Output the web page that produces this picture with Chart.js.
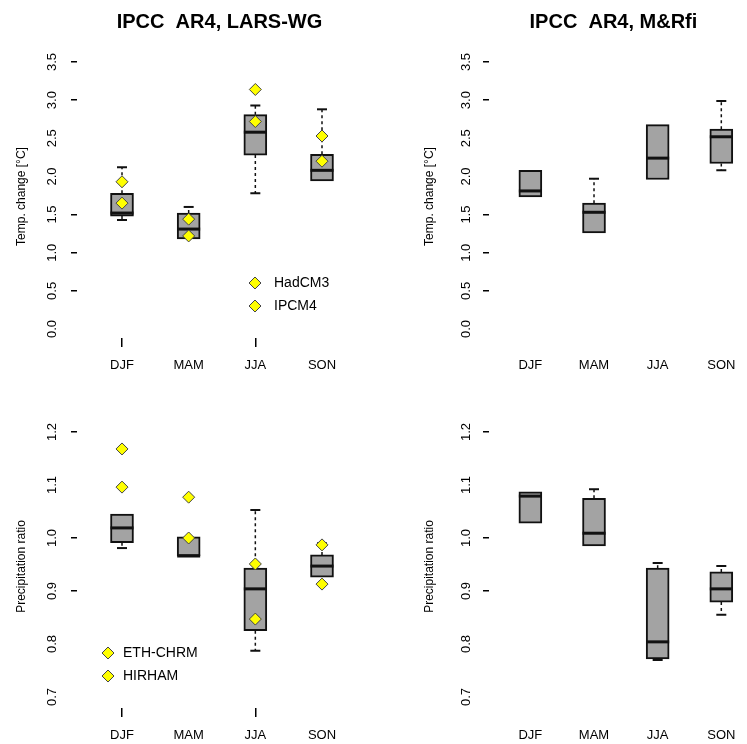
<!DOCTYPE html>
<html>
<head>
<meta charset="utf-8">
<script src="https://cdn.jsdelivr.net/npm/chart.js@4.4.0/dist/chart.umd.min.js"></script>
<style>
  html, body { margin: 0; padding: 0; background: #fff; }
  #wrap { position: relative; width: 747px; height: 744px; }
  canvas { position: absolute; }
</style>
</head>
<body>
<div id="wrap">
  <canvas id="pTL" width="373" height="372" style="left:0;top:0"></canvas>
  <canvas id="pTR" width="374" height="372" style="left:373px;top:0"></canvas>
  <canvas id="pBL" width="373" height="372" style="left:0;top:372px"></canvas>
  <canvas id="pBR" width="374" height="372" style="left:373px;top:372px"></canvas>
</div>
<script>
// categories
const seasons = ["DJF", "MAM", "JJA", "SON"];
const seasonPos = [1, 2, 3, 4];

// tick labels
const tempTicks = [0.0, 0.5, 1.0, 1.5, 2.0, 2.5, 3.0, 3.5];
const tempTickMarks = [0.5, 1.0, 1.5, 3.0, 3.5];
const precipTicks = [0.7, 0.8, 0.9, 1.0, 1.1, 1.2];
const precipTickMarks = [0.9, 1.0, 1.2];

// top left: IPCC AR4, LARS-WG, temperature change
const tlLow  = [1.43, 1.18, 1.78, 1.94];
const tlQ1   = [1.48, 1.18, 2.28, 1.94];
const tlMed  = [1.52, 1.31, 2.58, 2.08];
const tlQ3   = [1.78, 1.52, 2.81, 2.29];
const tlHigh = [2.12, 1.60, 2.93, 2.88];
const tlModelA = [1.65, 1.22, 2.72, 2.20];
const tlModelB = [1.93, 1.44, 3.14, 2.53];

// top right: IPCC AR4, M&Rfi
const trLow  = [1.73, 1.26, 1.96, 2.08];
const trQ1   = [1.73, 1.26, 1.96, 2.17];
const trMed  = [1.81, 1.53, 2.24, 2.52];
const trQ3   = [2.08, 1.65, 2.68, 2.62];
const trHigh = [2.08, 1.97, 2.68, 2.99];

// bottom left: precipitation ratio, LARS-WG
const blLow  = [0.981, 0.966, 0.787, 0.926];
const blQ1   = [0.991, 0.966, 0.825, 0.926];
const blMed  = [1.019, 0.966, 0.904, 0.947];
const blQ3   = [1.045, 1.002, 0.943, 0.968];
const blHigh = [1.045, 1.002, 1.053, 0.990];
const blRcmA = [1.168, 1.077, 0.951, 0.987];
const blRcmB = [1.096, 1.000, 0.847, 0.913];

// bottom right: precipitation ratio, M&Rfi
const brLow  = [1.028, 0.985, 0.770, 0.855];
const brQ1   = [1.028, 0.985, 0.772, 0.879];
const brMed  = [1.079, 1.009, 0.804, 0.904];
const brQ3   = [1.087, 1.075, 0.943, 0.936];
const brHigh = [1.087, 1.092, 0.953, 0.947];

const FONT = "'Liberation Sans', Arial, Helvetica, sans-serif";
const BOX_W = 23;

// median, whiskers and caps drawn on top of the box bars
const boxPlugin = {
  id: "boxExtras",
  afterDatasetDraw(chart, args) {
    if (args.index !== 0) return;
    const p = chart.options.plugins.boxExtras;
    const xs = chart.scales.x, ys = chart.scales.y;
    const ctx = chart.ctx;
    ctx.save();
    ctx.strokeStyle = "#111";
    seasonPos.forEach((pos, i) => {
      const x = xs.getPixelForValue(pos);
      const half = BOX_W / 2;
      // whiskers
      ctx.lineWidth = 1.5;
      ctx.setLineDash([3, 3]);
      ctx.beginPath();
      if (p.high[i] > p.q3[i]) {
        ctx.moveTo(x, ys.getPixelForValue(p.q3[i]));
        ctx.lineTo(x, ys.getPixelForValue(p.high[i]));
      }
      if (p.low[i] < p.q1[i]) {
        ctx.moveTo(x, ys.getPixelForValue(p.q1[i]));
        ctx.lineTo(x, ys.getPixelForValue(p.low[i]));
      }
      ctx.stroke();
      ctx.setLineDash([]);
      ctx.lineWidth = 2;
      ctx.beginPath();
      if (p.high[i] > p.q3[i]) {
        const y = ys.getPixelForValue(p.high[i]);
        ctx.moveTo(x - 5, y); ctx.lineTo(x + 5, y);
      }
      if (p.low[i] < p.q1[i]) {
        const y = ys.getPixelForValue(p.low[i]);
        ctx.moveTo(x - 5, y); ctx.lineTo(x + 5, y);
      }
      ctx.stroke();
      // median
      ctx.lineWidth = 3;
      ctx.beginPath();
      const ym = ys.getPixelForValue(p.med[i]);
      ctx.moveTo(x - half, ym); ctx.lineTo(x + half, ym);
      ctx.stroke();
    });
    ctx.restore();
  }
};

// y tick labels, rotated like R's default axis
const yLabelPlugin = {
  id: "yLabels",
  afterDraw(chart) {
    const p = chart.options.plugins.yLabels;
    const ys = chart.scales.y;
    const ctx = chart.ctx;
    ctx.save();
    ctx.font = "13px " + FONT;
    ctx.fillStyle = "#000";
    ctx.textAlign = "center";
    ctx.textBaseline = "middle";
    p.ticks.forEach(v => {
      ctx.save();
      ctx.translate(p.x, ys.getPixelForValue(v));
      ctx.rotate(-Math.PI / 2);
      ctx.fillText(v.toFixed(1), 0, 0);
      ctx.restore();
    });
    ctx.restore();
  }
};

// small legend inside the plot
const keyPlugin = {
  id: "key",
  afterDraw(chart) {
    const p = chart.options.plugins.key;
    if (!p.labels) return;
    const ctx = chart.ctx;
    ctx.save();
    ctx.font = "14px " + FONT;
    ctx.textBaseline = "middle";
    p.labels.forEach((lab, k) => {
      const y = p.y + k * 23;
      ctx.fillStyle = "#ffff00";
      ctx.strokeStyle = "#444";
      ctx.lineWidth = 1;
      Chart.helpers.drawPoint(ctx, { pointStyle: "rectRot", radius: 6, borderWidth: 1, rotation: 0 }, p.x, y);
      ctx.fillStyle = "#000";
      ctx.fillText(lab, p.textX, y);
    });
    ctx.restore();
  }
};

function makePanel(id, p) {
  const ctx = document.getElementById(id)?.getContext("2d");
  if (!ctx) return;
  const datasets = [{
    type: "bar",
    order: 1,
    data: seasonPos.map((x, i) => ({ x: x, y: [p.q1[i], p.q3[i]] })),
    backgroundColor: "#a3a3a3",
    borderColor: "#111",
    borderWidth: 2,
    borderSkipped: false,
    barThickness: BOX_W
  }];
  (p.points || []).forEach(vals => {
    datasets.push({
      type: "scatter",
      order: 0,
      data: seasonPos.map((x, i) => ({ x: x, y: vals[i] })),
      pointStyle: "rectRot",
      pointRadius: 6,
      backgroundColor: "#ffff00",
      borderColor: "#444",
      borderWidth: 1
    });
  });

  return new Chart(ctx, {
    type: "bar",
    data: { datasets },
    options: {
      responsive: false,
      animation: false,
      layout: { padding: { top: p.title ? 0 : 53, right: p.padRight, left: 0, bottom: 0 } },
      plugins: {
        legend: { display: false },
        tooltip: { enabled: false },
        title: {
          display: !!p.title,
          text: p.title,
          fullSize: false,
          color: "#000",
          font: { family: FONT, size: 20, weight: "bold", lineHeight: 1.2 },
          padding: { top: 10, bottom: 21 }
        },
        boxExtras: { low: p.low, q1: p.q1, med: p.med, q3: p.q3, high: p.high },
        yLabels: { ticks: p.yTicks, x: p.yLabelX },
        key: { labels: p.keyLabels, x: p.keyX, y: p.keyY, textX: p.keyTextX }
      },
      scales: {
        x: {
          type: "linear",
          min: p.xMin,
          max: p.xMax,
          offset: false,
          afterBuildTicks: s => { s.ticks = seasonPos.map(v => ({ value: v })); },
          afterFit: s => { s.height = p.xAxisH; },
          ticks: {
            autoSkip: false, maxRotation: 0, padding: 11, color: "#000",
            font: { family: FONT, size: 13 },
            callback: v => seasons[v - 1]
          },
          grid: {
            offset: false, drawOnChartArea: false, tickLength: 9, lineWidth: 1.5,
            color: c => p.xMarks[c.index] ? "#000" : "rgba(0,0,0,0)"
          },
          border: { display: false }
        },
        y: {
          type: "linear",
          min: p.yMin,
          max: p.yMax,
          afterBuildTicks: s => { s.ticks = p.yTicks.map(v => ({ value: v })); },
          afterFit: s => { s.width = p.yAxisW; },
          ticks: { display: false },
          grid: {
            drawOnChartArea: false, tickLength: 6, lineWidth: 1.5,
            color: c => p.yMarks.some(m => Math.abs(m - c.tick.value) < 1e-6) ? "#000" : "rgba(0,0,0,0)"
          },
          border: { display: false },
          title: {
            display: true, text: p.yTitle, color: "#000",
            font: { family: FONT, size: 12, lineHeight: 1.2 },
            padding: { top: p.yTitlePad, bottom: 0 }
          }
        }
      }
    },
    plugins: [boxPlugin, yLabelPlugin, keyPlugin]
  });
}

const leftLayout = { xMin: 0.325, xMax: 4.6, padRight: 11, yAxisW: 77, yLabelX: 52, yTitlePad: 14, xMarks: [true, false, true, false] };
const rightLayout = { xMin: 0.35, xMax: 4.26, padRight: 0, yAxisW: 116, yLabelX: 93, yTitlePad: 49, xMarks: [false, false, false, false] };
const tempAxis = { yMin: -0.118, yMax: 3.592, yTicks: tempTicks, yMarks: tempTickMarks, yTitle: "Temp. change [°C]", xAxisH: 34 };
const precipAxis = { yMin: 0.6792, yMax: 1.2132, yTicks: precipTicks, yMarks: precipTickMarks, yTitle: "Precipitation ratio", xAxisH: 36 };

makePanel("pTL", Object.assign({}, leftLayout, tempAxis, {
  title: "IPCC  AR4, LARS-WG",
  low: tlLow, q1: tlQ1, med: tlMed, q3: tlQ3, high: tlHigh,
  points: [tlModelA, tlModelB],
  keyLabels: ["HadCM3", "IPCM4"], keyX: 255, keyY: 283, keyTextX: 274
}));
makePanel("pTR", Object.assign({}, rightLayout, tempAxis, {
  title: "IPCC  AR4, M&Rfi",
  low: trLow, q1: trQ1, med: trMed, q3: trQ3, high: trHigh
}));
makePanel("pBL", Object.assign({}, leftLayout, precipAxis, {
  low: blLow, q1: blQ1, med: blMed, q3: blQ3, high: blHigh,
  points: [blRcmA, blRcmB],
  keyLabels: ["ETH-CHRM", "HIRHAM"], keyX: 108, keyY: 281, keyTextX: 123
}));
makePanel("pBR", Object.assign({}, rightLayout, precipAxis, {
  low: brLow, q1: brQ1, med: brMed, q3: brQ3, high: brHigh
}));
</script>
</body>
</html>
